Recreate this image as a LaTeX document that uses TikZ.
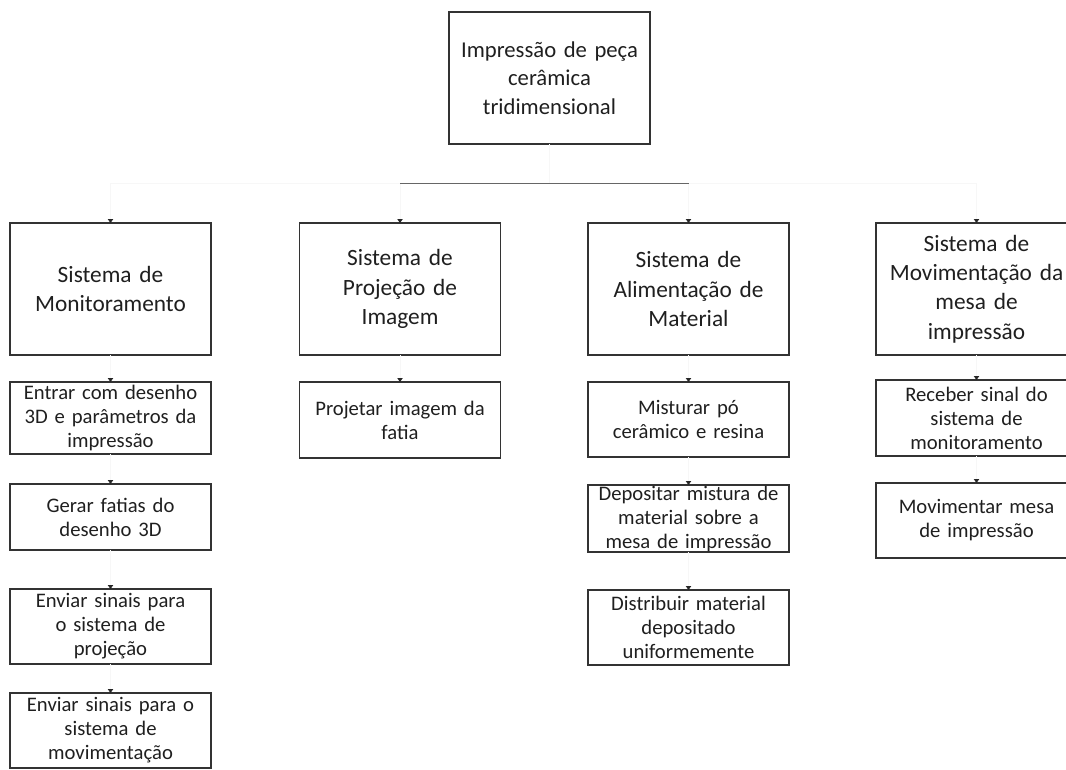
\documentclass[tikz,border=0pt]{standalone}
\usepackage{fontspec}
\setmainfont{Carlito}
\usetikzlibrary{arrows.meta}
\begin{document}
\begin{tikzpicture}[x=0.75pt,y=-0.75pt,
  boxbase/.style={draw=black!80, line width=0.9pt, align=center, inner sep=0pt, outer sep=0pt,
    text=black!88, minimum width=150.75pt, text width=148pt},
  topbox/.style={boxbase, minimum height=99pt, font=\fontsize{17}{21.5}\selectfont},
  sysbox/.style={boxbase, minimum height=99pt, font=\fontsize{17.5}{22}\selectfont},
  subbox/.style={boxbase, font=\fontsize{15.5}{18}\selectfont},
  conn/.style={draw=black!3, line width=0.6pt, -{Triangle[length=3pt,width=4pt,color=black!85]}},
  bus/.style={draw=black!60, line width=0.7pt}
]
\useasboundingbox (0,0) rectangle (1066,770);
\clip (0,0) rectangle (1066,770);

% top node
\node[topbox] (top) at (549.5,78) {Impressão de peça\\cerâmica\\tridimensional};

% level 1
\node[sysbox] (M) at (110.5,289) {Sistema de\\Monitoramento};
\node[sysbox] (P) at (400,289) {Sistema de\\Projeção de\\Imagem};
\node[sysbox] (A) at (688.5,289) {Sistema de\\Alimentação de\\Material};
\node[sysbox] (V) at (976.5,289) {Sistema de\\Movimentação da\\mesa de\\impressão};

% level 2 - Monitoramento
\node[subbox, minimum height=54pt] (m1) at (110.5,418) {Entrar com desenho\\3D e parâmetros da\\impressão};
\node[subbox, minimum height=49.5pt] (m2) at (110.5,517) {Gerar fatias do\\desenho 3D};
\node[subbox, minimum height=56.25pt] (m3) at (110.5,626.5) {Enviar sinais para\\o sistema de\\projeção};
\node[subbox, minimum height=56.25pt] (m4) at (110.5,730.5) {Enviar sinais para o\\sistema de\\movimentação};

% level 2 - Projeção
\node[subbox, minimum height=57pt] (p1) at (400,420) {Projetar imagem da\\fatia};

% level 2 - Alimentação
\node[subbox, minimum height=56.25pt] (a1) at (688.5,419.5) {Misturar pó\\cerâmico e resina};
\node[subbox, minimum height=50.25pt] (a2) at (688.5,518.5) {Depositar mistura de\\material sobre a\\mesa de impressão};
\node[subbox, minimum height=56.25pt] (a3) at (688.5,627.5) {Distribuir material\\depositado\\uniformemente};

% level 2 - Movimentação
\node[subbox, minimum height=57pt] (v1) at (976.5,418) {Receber sinal do\\sistema de\\monitoramento};
\node[subbox, minimum height=56.25pt] (v2) at (976.5,520.5) {Movimentar mesa\\de impressão};

% connectors
\coordinate (busc) at (549.5,183);
\draw[draw=black!3, line width=0.6pt] (top.south) -- (busc);
\draw[conn] (busc) -| (M.north);
\draw[conn] (busc) -| (P.north);
\draw[conn] (busc) -| (A.north);
\draw[conn] (busc) -| (V.north);
\draw[bus] (P.north |- busc) -- (A.north |- busc);

\draw[conn] (M.south) -- (m1.north);
\draw[conn] (m1.south) -- (m2.north);
\draw[conn] (m2.south) -- (m3.north);
\draw[conn] (m3.south) -- (m4.north);
\draw[conn] (P.south) -- (p1.north);
\draw[conn] (A.south) -- (a1.north);
\draw[conn] (a1.south) -- (a2.north);
\draw[conn] (a2.south) -- (a3.north);
\draw[conn] (V.south) -- (v1.north);
\draw[conn] (v1.south) -- (v2.north);
\end{tikzpicture}
\end{document}
